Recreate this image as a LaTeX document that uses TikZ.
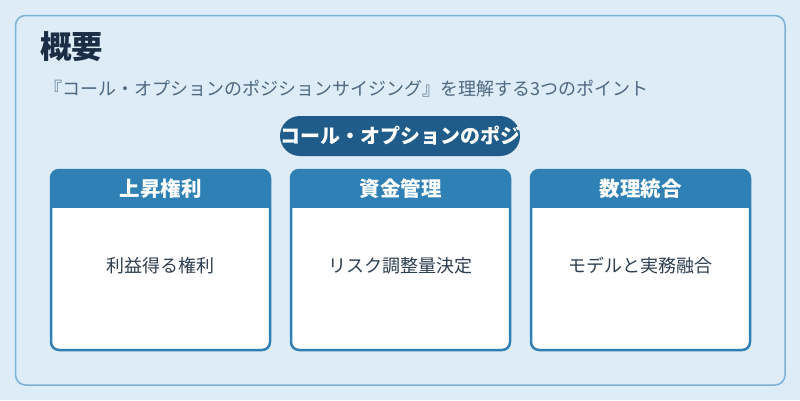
\documentclass[tikz,border=0pt]{standalone}
\usepackage{fontspec}
\setmainfont{Noto Sans CJK JP}
\usepackage{tikz}
\usetikzlibrary{positioning}
\definecolor{pagebg}{RGB}{221, 236, 247}
\definecolor{panelline}{RGB}{124, 176, 212}
\definecolor{titleink}{RGB}{27, 46, 69}
\definecolor{subink}{RGB}{78, 104, 130}
\definecolor{pillblue}{RGB}{31, 92, 138}
\definecolor{cardblue}{RGB}{46, 128, 181}
\definecolor{bodyink}{RGB}{44, 62, 80}

\begin{document}
\begin{tikzpicture}[x=1pt, y=-1pt,
    headtext/.style={font=\fontsize{20.5}{22}\selectfont\bfseries, text=white},
    bodytext/.style={font=\fontsize{18}{20}\selectfont, text=bodyink}]
    % Background and panel
    \fill[pagebg] (0, 0) rectangle (800, 400);
    \useasboundingbox (0, 0) rectangle (800, 400);
    \draw[panelline, line width=1.5pt, rounded corners=10pt] (15.5, 15.5) rectangle (785, 385);
    
    % Title and subtitle
    \node[anchor=west, inner sep=0, text=titleink, font=\fontsize{31.5}{34}\selectfont\bfseries] (title) at (40, 47) {概要};
    \node[anchor=west, inner sep=0, text=subink, font=\fontsize{18}{20}\selectfont] (subtitle) at (44, 89) {『コール・オプションのポジションサイジング』を理解する3つのポイント};
    
    % Pill
    \fill[pillblue, rounded corners=20pt] (280, 116) rectangle (520, 156);
    \node[inner sep=0, text=white, font=\fontsize{20}{22}\selectfont\bfseries] (pill) at (400, 135.5) {コール・オプションのポジ};
    
    % Cards
    \foreach \head/\body [count=\i from 0] in {上昇権利/利益得る権利, 資金管理/リスク調整量決定, 数理統合/モデルと実務融合} {
        \pgfmathsetmacro{\cx}{51 + 240*\i}
        \fill[white, rounded corners=8pt] (\cx, 170) rectangle (\cx + 219, 350);
        \begin{scope}
            \clip (\cx - 3, 167) rectangle (\cx + 222, 207);
            \fill[cardblue, rounded corners=8pt] (\cx, 170) rectangle (\cx + 219, 350);
        \end{scope}
        \draw[cardblue, line width=2.5pt, rounded corners=8pt] (\cx, 170) rectangle (\cx + 219, 350);
        \node[headtext] (head\i) at (\cx + 109.5, 188.5) {\head};
        \node[bodytext] (body\i) at (\cx + 109.5, 266) {\body};
    }
\end{tikzpicture}
\end{document}
